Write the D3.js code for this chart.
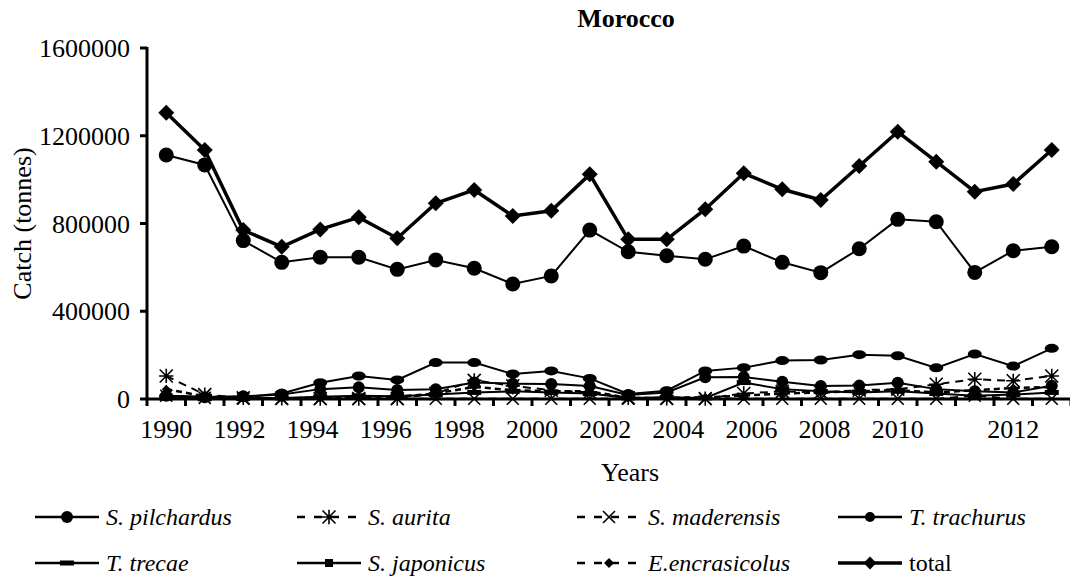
<!DOCTYPE html>
<html>
<head>
<meta charset="utf-8">
<script src="https://cdn.jsdelivr.net/npm/d3@7"></script>
<style>
  body { margin: 0; background: #fff; }
</style>
</head>
<body>
<div id="viz"></div>
<script>
// data
var years = [1990, 1991, 1992, 1993, 1994, 1995, 1996, 1997, 1998, 1999, 2000, 2001,
  2002, 2003, 2004, 2005, 2006, 2007, 2008, 2009, 2010, 2011, 2012, 2013]

var pilchardus = [1112000, 1067000, 722000, 623000, 646000, 646000, 591000, 634000, 596000, 524000, 561000, 770000,
  671000, 653000, 637000, 697000, 623000, 576000, 685000, 819000, 808000, 577000, 676000, 694000]
var aurita = [105000, 20000, 5000, 3000, 2000, 2000, 2000, 25000, 85000, 60000, 40000, 30000,
  5000, 3000, 2000, 25000, 35000, 30000, 40000, 45000, 67000, 90000, 83000, 105000]
var maderensis = [15000, 5000, 2000, 1000, 1000, 1000, 1000, 1000, 1000, 1000, 1000, 1000,
  1000, 1000, 1000, 1000, 1000, 1000, 1000, 1000, 1000, 15000, 1000, 1000]
var trachurus = [15000, 8000, 12000, 20000, 45000, 53000, 41000, 44000, 75000, 70000, 68000, 59000,
  18000, 30000, 99000, 100000, 79000, 59000, 61000, 74000, 45000, 35000, 30000, 60000]
var trecae = [5000, 3000, 2000, 5000, 10000, 15000, 12000, 20000, 30000, 35000, 30000, 25000,
  5000, 8000, 5000, 75000, 45000, 35000, 30000, 35000, 25000, 15000, 20000, 30000]
var japonicus = [15000, 10000, 10000, 25000, 74000, 105000, 87000, 166000, 166000, 114000, 128000, 94000,
  23000, 38000, 128000, 143000, 175000, 178000, 202000, 197000, 142000, 205000, 150000, 231000]
var encrasicolus = [45000, 12000, 5000, 3000, 5000, 8000, 10000, 25000, 55000, 40000, 35000, 35000,
  5000, 5000, 8000, 15000, 25000, 30000, 35000, 40000, 30000, 40000, 50000, 55000]
var total = [1305000, 1135000, 770000, 694000, 773000, 828000, 733000, 892000, 953000, 834000, 858000, 1024000,
  728000, 728000, 865000, 1029000, 956000, 907000, 1062000, 1218000, 1082000, 945000, 980000, 1135000]

var yTicks = [0, 400000, 800000, 1200000, 1600000]
var xLabels = [1990, 1992, 1994, 1996, 1998, 2000, 2002, 2004, 2006, 2008, 2010, 2012]

var series = [
  { name: "T. trecae", values: trecae, dash: null, width: 2, marker: "bar" },
  { name: "E.encrasicolus", values: encrasicolus, dash: "6,4", width: 2.5, marker: "smalldiamond" },
  { name: "S. maderensis", values: maderensis, dash: "8,6", width: 2, marker: "cross" },
  { name: "S. aurita", values: aurita, dash: "8,6", width: 2, marker: "asterisk" },
  { name: "T. trachurus", values: trachurus, dash: null, width: 2, marker: "smallcircle" },
  { name: "S. japonicus", values: japonicus, dash: null, width: 2, marker: "ellipse" },
  { name: "S. pilchardus", values: pilchardus, dash: null, width: 2, marker: "circle" },
  { name: "total", values: total, dash: null, width: 3.5, marker: "diamond" }
]

var width = 1070, height = 581
var serif = "'Liberation Serif', 'Times New Roman', Tinos, 'DejaVu Serif', serif"
var svg = d3.select("#viz").append("svg")
  .attr("width", width)
  .attr("height", height)
  .attr("font-family", serif)

var plotLeft = 147, plotRight = 1071, plotTop = 48, plotBottom = 399

var x = d3.scalePoint().domain(years).range([plotLeft, plotRight]).padding(0.5)
var band = d3.scaleBand().domain(years).range([plotLeft, plotRight])
var y = d3.scaleLinear().domain([0, 1600000]).range([plotBottom, plotTop])
// the source labels drift a little off the category centres
var xLab = d3.scaleLinear().domain([1990, 2010, 2012]).range([x(1990), x(2009), x(2012)])

function label(g, txt, size) {
  return g.append("text")
    .attr("font-family", serif)
    .attr("font-size", size)
    .attr("fill", "#000")
    .text(txt)
}

// title
label(svg, "Morocco", 26)
  .attr("x", 626).attr("y", 27)
  .attr("text-anchor", "middle")
  .attr("font-weight", "bold")

// y axis
var yAxis = svg.append("g")
yAxis.append("line")
  .attr("x1", plotLeft).attr("x2", plotLeft)
  .attr("y1", y(1600000) - 1).attr("y2", plotBottom)
  .style("stroke", "#000").style("stroke-width", 3)
yTicks.forEach(function (t) {
  yAxis.append("line")
    .attr("x1", plotLeft - 7).attr("x2", plotLeft)
    .attr("y1", y(t)).attr("y2", y(t))
    .style("stroke", "#000").style("stroke-width", 3)
  label(yAxis, t, 26)
    .attr("x", 130).attr("y", y(t) + 9)
    .attr("text-anchor", "end")
})
label(svg, "Catch (tonnes)", 26)
  .attr("transform", "translate(31," + ((plotTop + plotBottom) / 2) + ") rotate(-90)")
  .attr("text-anchor", "middle")

// x axis
var xAxis = svg.append("g")
xAxis.append("line")
  .attr("x1", plotLeft).attr("x2", plotRight)
  .attr("y1", plotBottom).attr("y2", plotBottom)
  .style("stroke", "#000").style("stroke-width", 3)
var tickPos = years.map(function (d) { return band(d) }).concat([band(2013) + band.bandwidth()])
tickPos.forEach(function (p) {
  xAxis.append("line")
    .attr("x1", p).attr("x2", p)
    .attr("y1", plotBottom).attr("y2", plotBottom + 7)
    .style("stroke", "#000").style("stroke-width", 3)
})
xLabels.forEach(function (d) {
  label(xAxis, d, 26)
    .attr("x", xLab(d)).attr("y", 438)
    .attr("text-anchor", "middle")
})
label(svg, "Years", 26)
  .attr("x", 630).attr("y", 481)
  .attr("text-anchor", "middle")

function drawMarker(g, kind, cx, cy, legend) {
  var k = legend ? 0.8 : 1
  if (kind == "circle") {
    g.append("circle").attr("cx", cx).attr("cy", cy).attr("r", 7.5 * k).style("fill", "#000")
  } else if (kind == "smallcircle") {
    g.append("circle").attr("cx", cx).attr("cy", cy).attr("r", (legend ? 5 : 6)).style("fill", "#000")
  } else if (kind == "diamond") {
    var s = 8 * k
    g.append("path").attr("d", "M" + cx + "," + (cy - s) + "L" + (cx + s) + "," + cy + "L" + cx + "," + (cy + s) + "L" + (cx - s) + "," + cy + "Z")
      .style("fill", "#000")
  } else if (kind == "smalldiamond") {
    var s2 = legend ? 5 : 4.5
    g.append("path").attr("d", "M" + cx + "," + (cy - s2) + "L" + (cx + s2) + "," + cy + "L" + cx + "," + (cy + s2) + "L" + (cx - s2) + "," + cy + "Z")
      .style("fill", "#000")
  } else if (kind == "ellipse") {
    if (legend) {
      g.append("rect").attr("x", cx - 4).attr("y", cy - 4).attr("width", 8).attr("height", 8).style("fill", "#000")
    } else {
      g.append("ellipse").attr("cx", cx).attr("cy", cy).attr("rx", 7).attr("ry", 4.5).style("fill", "#000")
    }
  } else if (kind == "bar") {
    g.append("rect").attr("x", cx - 7).attr("y", cy - 2.5).attr("width", 14).attr("height", 5).style("fill", "#000")
  } else if (kind == "cross") {
    var c = 6
    g.append("path").attr("d", "M" + (cx - c) + "," + (cy - c) + "L" + (cx + c) + "," + (cy + c) + "M" + (cx - c) + "," + (cy + c) + "L" + (cx + c) + "," + (cy - c))
      .style("stroke", "#000").style("stroke-width", 1.6).style("fill", "none")
  } else if (kind == "asterisk") {
    var a = 6.5
    g.append("path").attr("d", "M" + (cx - a) + "," + (cy - a) + "L" + (cx + a) + "," + (cy + a) + "M" + (cx - a) + "," + (cy + a) + "L" + (cx + a) + "," + (cy - a) +
      "M" + (cx - a * 1.1) + "," + cy + "L" + (cx + a * 1.1) + "," + cy + "M" + cx + "," + (cy - a * 1.1) + "L" + cx + "," + (cy + a * 1.1))
      .style("stroke", "#000").style("stroke-width", 1.6).style("fill", "none")
  }
}

// lines and markers
var line = d3.line()
  .x(function (d, i) { return x(years[i]) })
  .y(function (d) { return y(d) })

var plot = svg.append("g")
series.forEach(function (s) {
  plot.append("path")
    .datum(s.values)
    .attr("d", line)
    .style("fill", "none")
    .style("stroke", "#000")
    .style("stroke-width", s.width)
    .style("stroke-dasharray", s.dash)
  var mg = plot.append("g")
  s.values.forEach(function (v, i) {
    drawMarker(mg, s.marker, x(years[i]), y(v), false)
  })
})

// legend
var legendOrder = ["S. pilchardus", "S. aurita", "S. maderensis", "T. trachurus",
  "T. trecae", "S. japonicus", "E.encrasicolus", "total"]
var colX = [35, 297, 577, 838]
var rowY = [517, 563]
var legend = svg.append("g")
legendOrder.forEach(function (name, i) {
  var s = series.find(function (d) { return d.name == name })
  var lx = colX[i % 4], ly = rowY[Math.floor(i / 4)]
  var g = legend.append("g")
  g.append("line")
    .attr("x1", lx).attr("x2", lx + 64)
    .attr("y1", ly).attr("y2", ly)
    .style("stroke", "#000")
    .style("stroke-width", s.width == 3.5 ? 3.5 : 2.5)
    .style("stroke-dasharray", s.dash ? "8,9" : null)
  drawMarker(g, s.marker, lx + 32, ly, true)
  label(g, name, 24)
    .attr("x", lx + 71).attr("y", ly + 8)
    .attr("font-style", name == "total" ? "normal" : "italic")
})
</script>
</body>
</html>
